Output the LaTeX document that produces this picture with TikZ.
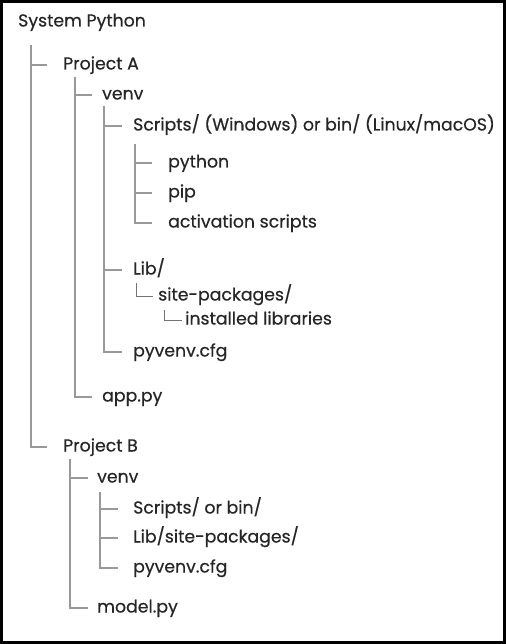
\documentclass[tikz,border=0pt]{standalone}
\usepackage{fontspec}
\setmainfont{Poppins}[FakeBold=0.5]
\usepackage{tikz}

\begin{document}
\begin{tikzpicture}[x=1pt, y=-1pt,
      every node/.style={anchor=west, inner sep=0pt, text height=12pt, text depth=3pt,
        font=\fontsize{17.3}{20}\selectfont, text=black!85},
      rail/.style={draw=black!40, line width=1.3pt},
      thinrail/.style={draw=black!55, line width=0.9pt}]
  \useasboundingbox (0,0) rectangle (506,644);
  \draw[line width=3pt] (1.2,1.2) rectangle (504.5,642.5);

  % nodes
  \node (sys) at (18,22) {System Python};
  \node (projA) at (63,65) {Project A};
  \node (venvA) at (102,95) {venv};
  \node (scriptsA) at (133,126) {Scripts/ (Windows) or bin/ (Linux/macOS)};
  \node (python) at (168,163) {python};
  \node (pip) at (168,193) {pip};
  \node (activ) at (168,223) {activation scripts};
  \node (libA) at (133,270) {Lib/};
  \node (site) at (158,296) {site-packages/};
  \node (installed) at (185,320) {installed libraries};
  \node (cfgA) at (133,352) {pyvenv.cfg};
  \node (app) at (102,397) {app.py};
  \node (projB) at (63,447) {Project B};
  \node (venvB) at (97,478) {venv};
  \node (scriptsB) at (133,509) {Scripts/ or bin/};
  \node (libB) at (133,538) {Lib/site-packages/};
  \node (cfgB) at (133,568) {pyvenv.cfg};
  \node (model) at (97,608) {model.py};

  % rails: top point and tick end
  \coordinate (sysrail) at (31,45);     \coordinate (sysend) at (47,45);
  \coordinate (projArail) at (75,77);   \coordinate (projAend) at (92,77);
  \coordinate (venvArail) at (104,106); \coordinate (venvAend) at (122,106);
  \coordinate (scrArail) at (135,144);  \coordinate (scrAend) at (152,144);
  \coordinate (librail) at (136,283);   \coordinate (libend) at (153,283);
  \coordinate (siterail) at (164,310);  \coordinate (siteend) at (182,310);
  \coordinate (projBrail) at (70,459);  \coordinate (projBend) at (88,459);
  \coordinate (venvBrail) at (100,492); \coordinate (venvBend) at (118,492);

  \foreach \c in {projA,projB} \draw[rail] (sysrail) |- (\c.west -| sysend);
  \foreach \c in {venvA,app} \draw[rail] (projArail) |- (\c.west -| projAend);
  \foreach \c in {scriptsA,libA,cfgA} \draw[rail] (venvArail) |- (\c.west -| venvAend);
  \foreach \c in {python,pip,activ} \draw[rail] (scrArail) |- (\c.west -| scrAend);
  \draw[thinrail] (librail) |- (site.west -| libend);
  \draw[thinrail] (siterail) |- (installed.west -| siteend);
  \foreach \c in {venvB,model} \draw[rail] (projBrail) |- (\c.west -| projBend);
  \foreach \c in {scriptsB,libB,cfgB} \draw[rail] (venvBrail) |- (\c.west -| venvBend);
\end{tikzpicture}
\end{document}
